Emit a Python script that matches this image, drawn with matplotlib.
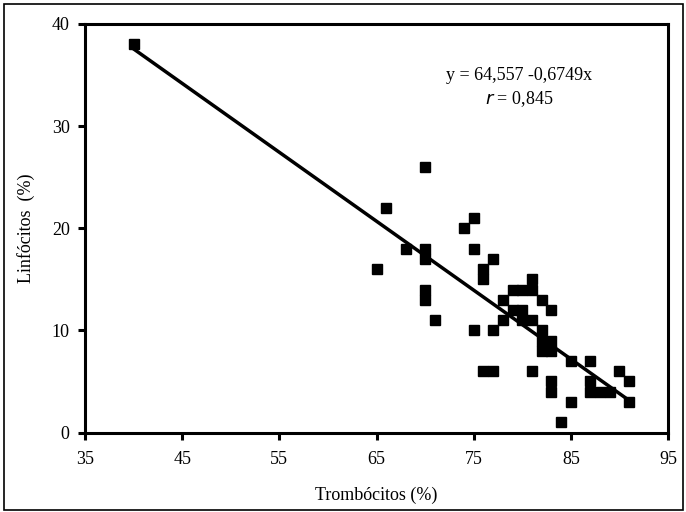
import matplotlib.pyplot as plt
import matplotlib.patches as mpatches
import numpy as np

plt.rcParams['font.family'] = ['Liberation Serif', 'DejaVu Serif']

# Trombócitos (%) vs Linfócitos (%)
trombocitos = [40, 70, 66, 68, 70, 70, 65, 70, 70, 71,
               75, 74, 75, 77, 76, 76, 81, 79, 80, 81,
               78, 82, 79, 80, 83, 78, 80, 81, 75, 77,
               82, 82, 83, 82, 83, 76, 77, 81, 83, 83,
               84, 85, 87, 90, 91, 87, 87, 88, 89, 85, 91]
linfocitos = [38, 26, 22, 18, 18, 17, 16, 14, 13, 11,
              21, 20, 18, 17, 16, 15, 15, 14, 14, 14,
              13, 13, 12, 12, 12, 11, 11, 11, 10, 10,
              10, 9, 9, 8, 8, 6, 6, 6, 5, 4,
              1, 7, 7, 6, 5, 5, 4, 4, 4, 3, 3]

# regression shown on the chart
intercept = 64.557
slope = -0.6749

fig = plt.figure(figsize=(6.86, 5.12), dpi=100)
ax = fig.add_axes([85/686, 1 - 432.5/512, (668 - 85)/686, (432.5 - 24)/512])

ax.plot(trombocitos, linfocitos, 's', color='black', markersize=7, zorder=3)

xfit = np.array([min(trombocitos), max(trombocitos)])
ax.plot(xfit, intercept + slope * xfit, color='black', linewidth=2.5, zorder=4)

ax.set_xlim(35, 95)
ax.set_ylim(0, 40)
ax.set_xticks(np.arange(35, 96, 10))
ax.set_yticks(np.arange(0, 41, 10))
ax.tick_params(direction='out', length=5, width=2.2, labelsize=13)
ax.tick_params(axis='x', pad=8)
ax.tick_params(axis='y', pad=6)
for sp in ax.spines.values():
    sp.set_linewidth(2.2)

ax.set_xlabel('Trombócitos (%)', fontsize=13, labelpad=14)
ax.set_ylabel('Linfócitos  (%)', fontsize=13, labelpad=12)

ax.text(0.745, 0.875, 'y = 64,557 -0,6749x', transform=ax.transAxes,
        ha='center', va='center', fontsize=13)
ax.text(0.745, 0.815, r'$\mathit{r}$ = 0,845', transform=ax.transAxes,
        ha='center', va='center', fontsize=13)

# outer frame around the whole chart
fig.patches.append(mpatches.Rectangle((4/686, 2/512), 679/686, 506/512,
                                      transform=fig.transFigure, fill=False,
                                      edgecolor='black', linewidth=1.2))

fig.savefig('out.png', dpi=100)
